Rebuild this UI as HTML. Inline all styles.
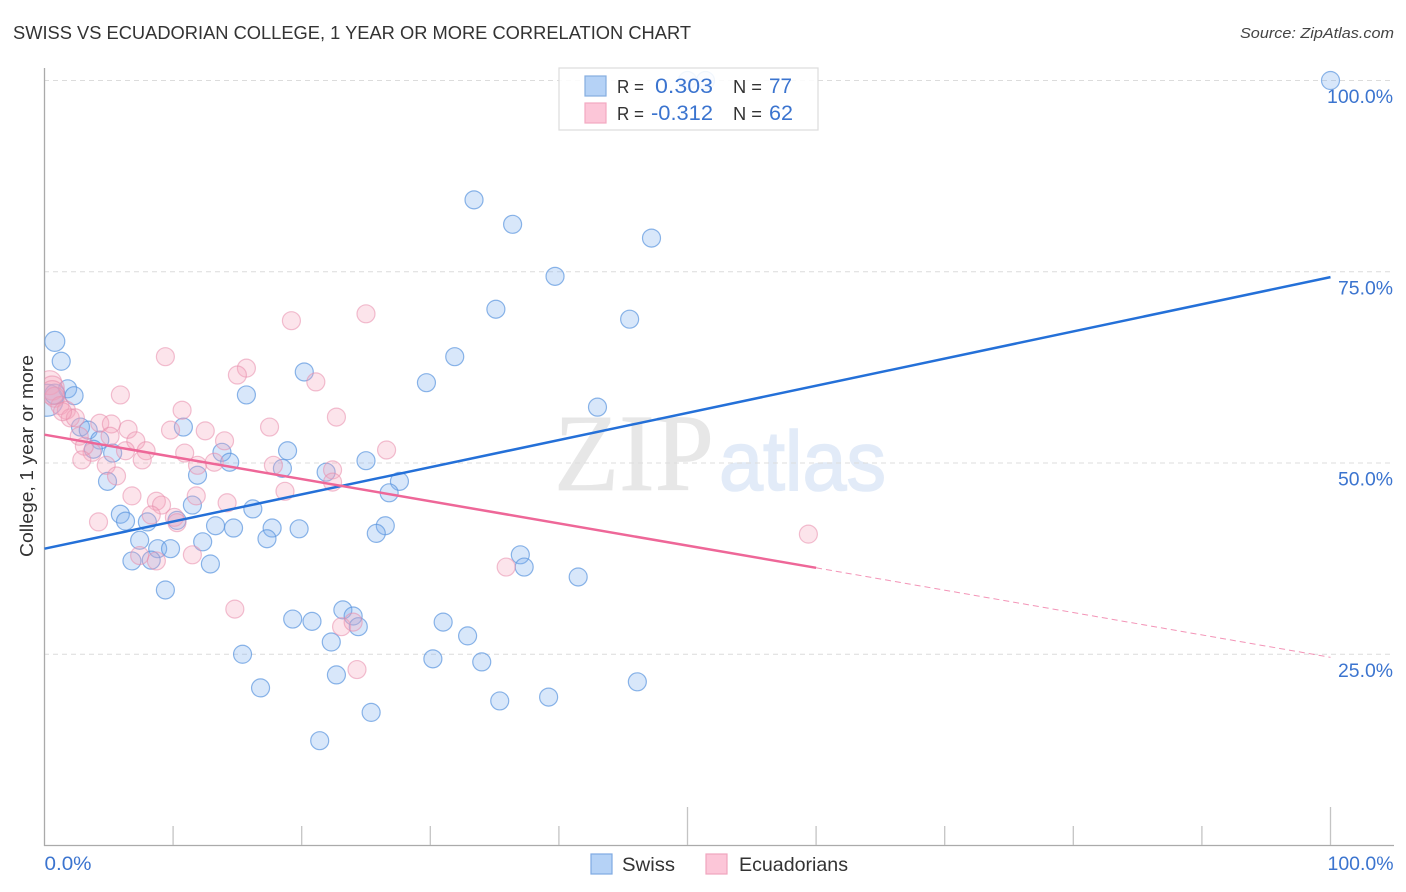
<!DOCTYPE html>
<html>
<head>
<meta charset="utf-8">
<title>Swiss vs Ecuadorian College, 1 Year or More Correlation Chart</title>
<style>
html,body{margin:0;padding:0;background:#fff;width:1406px;height:892px;overflow:hidden}
svg{display:block}
text{font-family:"Liberation Sans",sans-serif}
</style>
</head>
<body>
<svg id="chart" xmlns="http://www.w3.org/2000/svg" width="1406" height="892" viewBox="0 0 1406 892">
  <defs>
    <clipPath id="plot-clip"><rect x="44.5" y="60" width="1350" height="786"/></clipPath>
  </defs>
  <text x="13" y="39" font-size="18.5" fill="#333" textLength="678" lengthAdjust="spacingAndGlyphs">SWISS VS ECUADORIAN COLLEGE, 1 YEAR OR MORE CORRELATION CHART</text>
  <text x="1394" y="38" font-size="15" font-style="italic" fill="#444" text-anchor="end" textLength="154" lengthAdjust="spacingAndGlyphs">Source: ZipAtlas.com</text>
  <g>
    <text x="554" y="490" font-size="110" fill="#e7e7e7" stroke="#e7e7e7" stroke-width="0.8" textLength="160" lengthAdjust="spacingAndGlyphs" style="font-family:'Liberation Serif',serif">ZIP</text>
    <text x="719" y="490" font-size="84" fill="#e2ebf8" stroke="#e2ebf8" stroke-width="1.6" textLength="167" lengthAdjust="spacingAndGlyphs">atlas</text>
  </g>
  <g id="grid"></g>
  <g id="axes"></g>
  <g id="swiss-points" clip-path="url(#plot-clip)"></g>
  <g id="ecuadorian-points" clip-path="url(#plot-clip)"></g>
  <g id="trends"></g>
  <text transform="translate(33,557) rotate(-90)" font-size="18.5" fill="#333" textLength="202" lengthAdjust="spacingAndGlyphs">College, 1 year or more</text>
  <g>
    <rect x="559" y="68" width="259" height="62" fill="#fff" fill-opacity="0.88" stroke="#dcdcdc" stroke-width="1.2"/>
    <rect x="585" y="76" width="21" height="20" fill="#b5d2f6" stroke="#86ade0" stroke-width="1.2"/>
    <rect x="585" y="103" width="21" height="20" fill="#fcc6d8" stroke="#f2a9c1" stroke-width="1.2"/>
    <text x="617" y="93" font-size="18.5" fill="#333" textLength="27" lengthAdjust="spacingAndGlyphs">R =</text>
    <text x="655" y="93" font-size="21" fill="#3b74cf" textLength="58" lengthAdjust="spacingAndGlyphs">0.303</text>
    <text x="733" y="93" font-size="18.5" fill="#333" textLength="29" lengthAdjust="spacingAndGlyphs">N =</text>
    <text x="769" y="93" font-size="21" fill="#3b74cf" textLength="23" lengthAdjust="spacingAndGlyphs">77</text>
    <text x="617" y="120" font-size="18.5" fill="#333" textLength="27" lengthAdjust="spacingAndGlyphs">R =</text>
    <text x="651" y="120" font-size="21" fill="#3b74cf" textLength="62" lengthAdjust="spacingAndGlyphs">-0.312</text>
    <text x="733" y="120" font-size="18.5" fill="#333" textLength="29" lengthAdjust="spacingAndGlyphs">N =</text>
    <text x="769" y="120" font-size="21" fill="#3b74cf" textLength="24" lengthAdjust="spacingAndGlyphs">62</text>
  </g>
  <g>
    <rect x="591" y="854" width="21" height="20" fill="#b5d2f6" stroke="#7fa9e2" stroke-width="1.2"/>
    <text x="622" y="871" font-size="19.5" fill="#333" textLength="53" lengthAdjust="spacingAndGlyphs">Swiss</text>
    <rect x="706" y="854" width="21" height="20" fill="#fcc6d8" stroke="#f0a5be" stroke-width="1.2"/>
    <text x="739" y="871" font-size="19.5" fill="#333" textLength="109" lengthAdjust="spacingAndGlyphs">Ecuadorians</text>
  </g>
</svg>
<script>
const yTickValues = [100, 75, 50, 25];
const yTickLabels = ["100.0%", "75.0%", "50.0%", "25.0%"];
const xTickValues = [0, 10, 20, 30, 40, 50, 60, 70, 80, 90, 100];
const xEndValues = [0, 100];
const xEndLabels = ["0.0%", "100.0%"];

const swissX = [100,33.4,36.4,47.2,39.7,35.1,45.5,0.8,1.3,31.9,29.7,20.2,1.8,2.3,15.7,43.0,0.2,0.8,10.8,2.8,3.4,4.3,3.8,5.3,13.8,14.4,18.9,18.5,25,21.9,11.9,4.9,27.6,26.8,11.5,16.2,5.9,6.3,8,10.3,13.3,14.7,17.7,19.8,26.5,25.8,17.3,7.4,12.3,8.8,9.8,6.8,8.3,12.9,37,37.3,41.5,9.4,23.2,24,19.3,20.8,24.4,31,32.9,22.3,15.4,30.2,34,46.1,22.7,16.8,35.4,39.2,25.4,21.4,50,51.4];
const swissY = [100,84.4,81.2,79.4,74.4,70.1,68.8,65.9,63.3,63.9,60.5,61.9,59.7,58.8,58.9,57.3,58.2,59,54.7,54.7,54.3,53.0,51.8,51.3,51.4,50.1,51.6,49.3,50.3,48.8,48.4,47.6,47.6,46.1,44.5,44,43.3,42.4,42.3,42.5,41.8,41.5,41.5,41.4,41.8,40.8,40.1,39.9,39.7,38.8,38.8,37.2,37.3,36.8,38,36.4,35.1,33.4,30.8,30,29.6,29.3,28.6,29.2,27.4,26.6,25,24.4,24,21.4,22.3,20.6,18.9,19.4,17.4,13.7,100,100];

const ecuadorianX = [19.2,25,9.4,15.7,15,21.1,0.4,0.6,5.9,0.8,1.2,1.7,10.7,22.7,2,2.4,4.3,5.2,6.5,9.8,12.5,17.5,5.1,2.7,7.1,14,26.6,3.7,3.1,6.3,7.9,10.9,7.6,2.9,4.8,11.9,13.2,17.8,22.4,22.4,5.6,18.7,6.8,11.8,8.7,9.1,14.2,4.2,8.3,10.1,10.3,59.4,7.4,8.7,11.5,35.9,14.8,23.1,24,24.3,1.4,0.6];
const ecuadorianY = [68.6,69.5,63.9,62.4,61.5,60.6,60.5,59.8,58.9,58.6,57.5,56.9,56.9,56,55.9,55.9,55.2,55.1,54.4,54.3,54.2,54.7,53.5,53.5,52.9,52.9,51.7,51.4,52.2,51.6,51.6,51.3,50.4,50.4,49.7,49.7,50.1,49.7,49.1,47.5,48.3,46.3,45.7,45.7,45,44.5,44.8,42.3,43.2,42.9,42.2,40.7,37.9,37.2,38,36.4,30.9,28.6,29.2,23,56.7,59.2];

const swissTrendX = [0, 100];
const swissTrendY = [38.8, 74.3];
const ecuadorianTrendX = [0, 60];
const ecuadorianTrendY = [53.7, 36.3];
const ecuadorianExtensionX = [60, 100];
const ecuadorianExtensionY = [36.3, 24.6];

const NS = 'http://www.w3.org/2000/svg';
function xScale(v) { return 44.5 + v * 12.86; }
function yScale(v) { return 845.5 - v * 7.65; }
function radius(x) { return x < 0.3 ? 16 : x < 0.7 ? 12 : x < 1 ? 10 : 9; }
function make(tag, parentId, attrs) {
  const el = document.createElementNS(NS, tag);
  for (const k in attrs) el.setAttribute(k, attrs[k]);
  document.getElementById(parentId).appendChild(el);
  return el;
}

yTickValues.forEach(function (v, i) {
  const line = make('line', 'grid', { x1: 44, x2: 1394, y1: yScale(v), y2: yScale(v), stroke: '#dcdcdc', 'stroke-width': 1, 'stroke-dasharray': '5 4' });
  
  
  const label = make('text', 'axes', { x: 1393, y: yScale(v) + 22.5, 'font-size': 19.5, fill: '#3b74cf', 'text-anchor': 'end' });
  label.textContent = yTickLabels[i];
  label.setAttribute('textLength', i === 0 ? 66 : 55);
  label.setAttribute('lengthAdjust', 'spacingAndGlyphs');
  
  
});

const leftAxis = make('line', 'axes', { x1: 44.5, x2: 44.5, y1: 68, y2: 846, stroke: '#aaa', 'stroke-width': 1.3 });


const bottomAxis = make('line', 'axes', { x1: 44, x2: 1394, y1: 845.5, y2: 845.5, stroke: '#aaa', 'stroke-width': 1.3 });



xTickValues.forEach(function (v) {
  if (v === 0) return;
  const top = v % 50 === 0 ? 807 : 826;
  const tick = make('line', 'axes', { x1: xScale(v), x2: xScale(v), y1: top, y2: 845, stroke: '#c4c4c4', 'stroke-width': 1.3 });
  
  
});

xEndValues.forEach(function (v, i) {
  const label = make('text', 'axes', { y: 870, 'font-size': 19.5, fill: '#3b74cf' });
  label.setAttribute('x', i === 0 ? xScale(v) : xScale(v) + 63);
  label.setAttribute('text-anchor', i === 0 ? 'start' : 'end');
  label.setAttribute('textLength', i === 0 ? 47 : 66);
  label.setAttribute('lengthAdjust', 'spacingAndGlyphs');
  label.textContent = xEndLabels[i];
  
  
});

swissX.forEach(function (x, i) {
  const c = make('circle', 'swiss-points', { cx: xScale(x), cy: yScale(swissY[i]), r: radius(x), fill: '#7db0f0', 'fill-opacity': 0.3, stroke: '#5b95de', 'stroke-opacity': 0.7, 'stroke-width': 1.2 });
  
  
});

ecuadorianX.forEach(function (x, i) {
  const c = make('circle', 'ecuadorian-points', { cx: xScale(x), cy: yScale(ecuadorianY[i]), r: radius(x), fill: '#f4a6be', 'fill-opacity': 0.3, stroke: '#e88dab', 'stroke-opacity': 0.55, 'stroke-width': 1.2 });
  
  
});

const swissLine = make('line', 'trends', { x1: xScale(swissTrendX[0]), y1: yScale(swissTrendY[0]), x2: xScale(swissTrendX[1]), y2: yScale(swissTrendY[1]), stroke: '#2470d8', 'stroke-width': 2.5 });


const ecuadorianLine = make('line', 'trends', { x1: xScale(ecuadorianTrendX[0]), y1: yScale(ecuadorianTrendY[0]), x2: xScale(ecuadorianTrendX[1]), y2: yScale(ecuadorianTrendY[1]), stroke: '#ee6798', 'stroke-width': 2.5 });


const ecuadorianDash = make('line', 'trends', { x1: xScale(ecuadorianExtensionX[0]), y1: yScale(ecuadorianExtensionY[0]), x2: xScale(ecuadorianExtensionX[1]), y2: yScale(ecuadorianExtensionY[1]), stroke: '#ee6798', 'stroke-width': 1, 'stroke-dasharray': '6 4', 'stroke-opacity': 0.7 });


</script>
</body>
</html>
